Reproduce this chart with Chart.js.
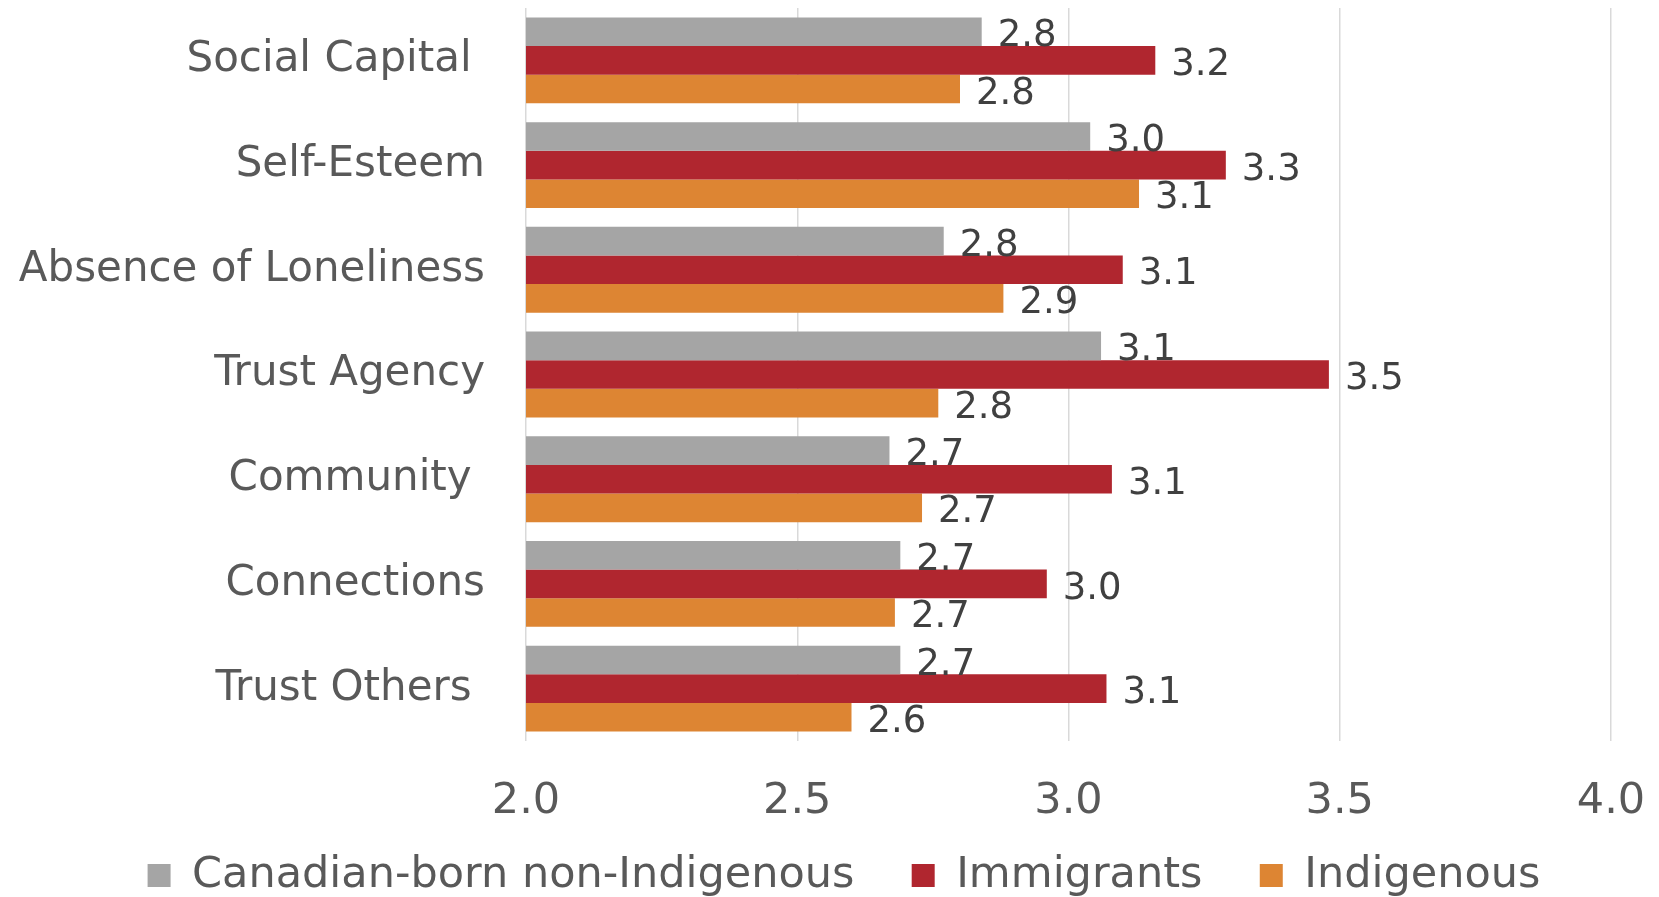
<!DOCTYPE html>
<html>
<head>
<meta charset="utf-8">
<script src="https://cdn.jsdelivr.net/npm/chart.js@4.4.1/dist/chart.umd.min.js"></script>
<style>
  html, body { margin: 0; padding: 0; background: #fff; }
  #wrap { width: 1659px; height: 897px; }
</style>
</head>
<body>
<div id="wrap"><canvas id="chart" width="1659" height="897"></canvas></div>
<script>
// Categories (trailing spaces kept as in the source labels)
const categories = ['Social Capital ', 'Self-Esteem', 'Absence of Loneliness', 'Trust Agency', 'Community ', 'Connections', 'Trust Others '];
const seriesNames = ['Canadian-born non-Indigenous', 'Immigrants', 'Indigenous'];
const canadianBorn = [2.84, 3.04, 2.77, 3.06, 2.67, 2.69, 2.69];
const immigrants = [3.16, 3.29, 3.10, 3.48, 3.08, 2.96, 3.07];
const indigenous = [2.80, 3.13, 2.88, 2.76, 2.73, 2.68, 2.60];
const seriesColors = ['#a5a5a5', '#b0262f', '#dd8533'];
const xTicks = [2.0, 2.5, 3.0, 3.5, 4.0];

const FONT = "'DejaVu Sans', Verdana, sans-serif";

// value labels drawn just past the end of each bar
const valueLabels = {
    id: 'valueLabels',
    afterDatasetsDraw(chart) {
        const ctx = chart.ctx;
        ctx.save();
        ctx.font = `37px ${FONT}`;
        ctx.fillStyle = '#404040';
        ctx.textAlign = 'left';
        ctx.textBaseline = 'middle';
        chart.data.datasets.forEach((ds, i) => {
            chart.getDatasetMeta(i).data.forEach((bar, j) => {
                ctx.fillText(ds.data[j].toFixed(1), bar.x + 16, bar.y + 5);
            });
        });
        ctx.restore();
    }
};

const values = [canadianBorn, immigrants, indigenous];

new Chart(document.getElementById('chart'), {
    type: 'bar',
    plugins: [valueLabels],
    data: {
        labels: categories,
        datasets: seriesNames.map((name, i) => ({
            label: name,
            data: values[i],
            backgroundColor: seriesColors[i],
            borderWidth: 0,
            categoryPercentage: 0.82,
            barPercentage: 1.0
        }))
    },
    options: {
        indexAxis: 'y',
        responsive: false,
        devicePixelRatio: 1,
        animation: false,
        layout: { padding: { left: 15, right: -14, top: 8, bottom: -10 } },
        scales: {
            x: {
                min: xTicks[0],
                max: xTicks[xTicks.length - 1],
                afterBuildTicks: (scale) => { scale.ticks = xTicks.map(v => ({ value: v })); },
                ticks: {
                    padding: 35,
                    color: '#595959',
                    font: { family: FONT, size: 43 },
                    callback: (v) => Number(v).toFixed(1)
                },
                grid: { color: '#d9d9d9', lineWidth: 1.5, drawTicks: false },
                border: { display: false },
                afterFit: (scale) => { scale.height = 83; scale.paddingRight = 48; }
            },
            y: {
                ticks: {
                    padding: 41,
                    color: '#595959',
                    font: { family: FONT, size: 42 }
                },
                grid: { display: false, drawTicks: false },
                border: { display: false },
                afterFit: (scale) => { scale.width = 511; scale.paddingTop = 0; scale.paddingBottom = 0; }
            }
        },
        plugins: {
            tooltip: { enabled: false },
            legend: {
                position: 'bottom',
                labels: {
                    boxWidth: 23,
                    boxHeight: 23,
                    padding: 30,
                    color: '#595959',
                    font: { family: FONT, size: 43 },
                    // widen the gap after every entry but the last
                    generateLabels: (chart) => {
                        const items = Chart.defaults.plugins.legend.labels.generateLabels(chart);
                        items.forEach((it, i) => { if (i < items.length - 1) it.text += '  '; });
                        return items;
                    }
                }
            }
        }
    }
});
</script>
</body>
</html>
